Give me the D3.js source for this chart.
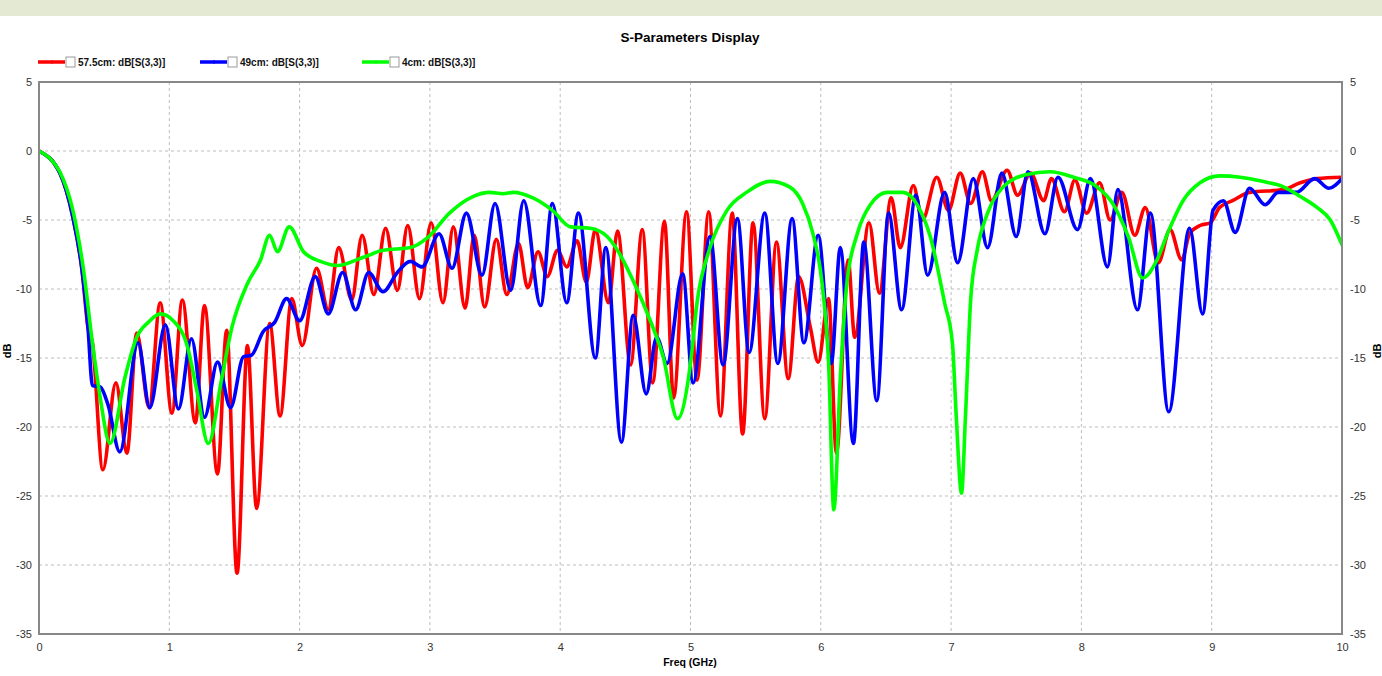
<!DOCTYPE html>
<html><head><meta charset="utf-8">
<script src="https://cdn.jsdelivr.net/npm/d3@7"></script>
<style>
body{margin:0;background:#fff;}
text{font-family:"Liberation Sans",Arial,sans-serif;}
</style></head>
<body><svg id="c" width="1382" height="676"></svg>
<script>
const title = "S-Parameters Display";
const seriesNames = ["57.5cm: dB[S(3,3)]", "49cm: dB[S(3,3)]", "4cm: dB[S(3,3)]"];
const seriesColors = ["#ff0000", "#0000ff", "#00ff00"];
const xTicks = [0,1,2,3,4,5,6,7,8,9,10];
const yTicks = [5,0,-5,-10,-15,-20,-25,-30,-35];

const red575 = [[0,0],[0.16,-1.6],[0.26,-4.8],[0.33,-8.6],[0.376,-12.8],[0.41,-13.9],[0.49,-23.1],[0.59,-16.8],[0.675,-21.9],[0.75,-13.2],[0.845,-18.6],[0.93,-11.0],[1.02,-19.0],[1.10,-10.8],[1.20,-19.7],[1.27,-11.2],[1.37,-23.4],[1.44,-13.0],[1.52,-30.6],[1.60,-14.1],[1.67,-25.9],[1.77,-12.5],[1.85,-19.2],[1.94,-10.7],[2.02,-14.1],[2.13,-8.5],[2.22,-11.5],[2.30,-7.0],[2.40,-10.8],[2.48,-6.1],[2.57,-10.4],[2.66,-5.6],[2.75,-10.1],[2.83,-5.4],[2.92,-10.7],[3.01,-5.2],[3.10,-11.0],[3.18,-5.5],[3.27,-11.4],[3.34,-6.1],[3.42,-11.3],[3.51,-6.4],[3.59,-10.4],[3.68,-6.7],[3.75,-9.9],[3.83,-7.3],[3.90,-9.1],[3.98,-7.2],[4.05,-8.4],[4.13,-6.5],[4.20,-9.5],[4.27,-5.7],[4.37,-11.0],[4.44,-5.8],[4.54,-15.5],[4.63,-5.7],[4.71,-16.8],[4.80,-5.1],[4.87,-17.9],[4.97,-4.4],[5.05,-16.6],[5.14,-4.4],[5.23,-19.2],[5.32,-4.5],[5.40,-20.5],[5.48,-5.2],[5.57,-19.4],[5.66,-6.6],[5.75,-16.5],[5.83,-9.1],[5.92,-12.8],[5.98,-15.3],[6.06,-10.7],[6.12,-21.9],[6.21,-7.9],[6.26,-13.5],[6.37,-5.2],[6.45,-10.3],[6.54,-3.4],[6.61,-7.0],[6.71,-2.5],[6.78,-5.0],[6.89,-1.9],[6.98,-4.3],[7.07,-1.6],[7.15,-3.8],[7.24,-1.5],[7.31,-3.6],[7.43,-1.4],[7.51,-3.2],[7.61,-1.6],[7.71,-3.6],[7.77,-2.0],[7.87,-4.4],[7.95,-2.1],[8.04,-4.5],[8.14,-2.3],[8.22,-5.0],[8.31,-3.0],[8.41,-6.1],[8.49,-4.1],[8.59,-8.1],[8.68,-5.7],[8.77,-7.9],[8.83,-6.0],[8.91,-5.4],[8.99,-5.2],[9.06,-4.1],[9.16,-3.6],[9.29,-3.0],[9.55,-2.8],[9.68,-2.3],[9.81,-2.0],[10,-1.9]];

const blue49 = [[0,0],[0.16,-1.6],[0.26,-4.8],[0.33,-8.6],[0.376,-12.8],[0.41,-17.0],[0.47,-17.1],[0.53,-18.4],[0.62,-21.8],[0.76,-13.9],[0.85,-18.6],[0.97,-12.6],[1.07,-18.7],[1.17,-13.6],[1.27,-19.3],[1.37,-15.3],[1.47,-18.6],[1.57,-14.9],[1.63,-14.8],[1.72,-13.1],[1.81,-12.4],[1.90,-10.7],[2.00,-12.3],[2.12,-9.1],[2.22,-11.8],[2.33,-8.8],[2.43,-11.5],[2.53,-8.8],[2.64,-10.2],[2.75,-8.8],[2.85,-8.0],[2.94,-8.4],[3.07,-6.0],[3.17,-8.5],[3.28,-4.5],[3.40,-9.0],[3.50,-3.8],[3.62,-10.1],[3.72,-3.6],[3.85,-11.2],[3.94,-3.8],[4.05,-11.0],[4.14,-4.5],[4.27,-15.0],[4.35,-7.0],[4.47,-21.1],[4.56,-11.9],[4.66,-17.6],[4.74,-13.5],[4.82,-15.4],[4.94,-8.9],[5.02,-16.8],[5.15,-6.2],[5.25,-15.5],[5.36,-4.9],[5.45,-14.6],[5.57,-4.5],[5.67,-15.4],[5.78,-4.9],[5.87,-13.9],[5.98,-6.1],[6.08,-15.4],[6.15,-7.0],[6.25,-21.2],[6.33,-6.6],[6.43,-18.1],[6.52,-4.5],[6.62,-11.5],[6.73,-3.2],[6.82,-9.0],[6.95,-3.0],[7.05,-8.1],[7.17,-2.0],[7.28,-7.0],[7.39,-1.6],[7.50,-6.2],[7.59,-1.5],[7.72,-6.0],[7.82,-1.9],[7.97,-5.7],[8.07,-2.0],[8.20,-8.4],[8.28,-2.8],[8.43,-11.5],[8.53,-4.5],[8.67,-18.9],[8.83,-5.6],[8.93,-11.8],[9.01,-4.3],[9.09,-3.6],[9.18,-5.9],[9.29,-2.7],[9.41,-3.9],[9.51,-3.0],[9.65,-3.0],[9.79,-2.0],[9.90,-2.7],[10,-2.0]];

const green4 = [[0,0],[0.08,-0.5],[0.16,-1.5],[0.26,-4.3],[0.34,-8.5],[0.41,-13.9],[0.47,-17.9],[0.545,-21.2],[0.66,-16.4],[0.75,-13.5],[0.84,-12.4],[0.93,-11.8],[1.03,-12.3],[1.14,-14.2],[1.21,-17.3],[1.30,-21.2],[1.40,-16.6],[1.48,-12.8],[1.60,-9.6],[1.70,-7.9],[1.77,-6.1],[1.83,-7.3],[1.92,-5.5],[2.03,-7.3],[2.16,-8.0],[2.29,-8.3],[2.49,-7.7],[2.64,-7.2],[2.85,-7.0],[2.98,-6.3],[3.15,-4.5],[3.33,-3.3],[3.46,-3.0],[3.56,-3.1],[3.64,-3.0],[3.79,-3.4],[3.94,-4.3],[4.08,-5.5],[4.23,-5.6],[4.36,-6.2],[4.44,-7.2],[4.56,-9.4],[4.70,-12.5],[4.79,-14.9],[4.90,-19.4],[5.00,-15.4],[5.05,-11.0],[5.15,-7.0],[5.28,-4.3],[5.43,-3.0],[5.61,-2.2],[5.76,-2.6],[5.86,-3.8],[5.94,-6.0],[6.01,-9.6],[6.06,-15.4],[6.10,-26.0],[6.15,-16.4],[6.20,-9.6],[6.28,-6.0],[6.38,-3.9],[6.51,-3.0],[6.63,-3.0],[6.74,-3.9],[6.84,-6.2],[6.95,-11.0],[7.01,-13.9],[7.04,-19.3],[7.08,-24.8],[7.11,-19.3],[7.15,-10.8],[7.20,-7.2],[7.28,-4.5],[7.40,-2.6],[7.58,-1.7],[7.76,-1.5],[7.94,-1.9],[8.12,-2.6],[8.24,-3.8],[8.36,-6.2],[8.47,-9.2],[8.58,-7.9],[8.66,-6.0],[8.78,-3.6],[8.91,-2.3],[9.06,-1.8],[9.22,-1.9],[9.39,-2.2],[9.55,-2.6],[9.68,-3.3],[9.81,-4.1],[9.91,-5.0],[10,-6.8]];

const seriesData = [red575, blue49, green4];

const svg = d3.select("#c");
const L = 39, R = 1342, T = 82, B = 634;
const x = d3.scaleLinear().domain([0,10]).range([L,R]);
const y = d3.scaleLinear().domain([-35,5]).range([B,T]);

svg.append("rect").attr("x",0).attr("y",0).attr("width",1382).attr("height",16).attr("fill","#e4e9d3");

svg.append("text").attr("x",690).attr("y",42).attr("text-anchor","middle")
  .attr("font-size",13.5).attr("font-weight","bold").attr("fill","#000").text(title);

const legX = [38, 200, 362];
seriesNames.forEach((n,i)=>{
  const g = svg.append("g").attr("transform",`translate(${legX[i]},62)`);
  g.append("line").attr("x1",0).attr("x2",27).attr("y1",0).attr("y2",0).attr("stroke",seriesColors[i]).attr("stroke-width",3.5);
  g.append("line").attr("x1",14).attr("x2",14).attr("y1",-2).attr("y2",2).attr("stroke",seriesColors[i]).attr("stroke-width",1);
  g.append("rect").attr("x",28).attr("y",-5).attr("width",9).attr("height",10).attr("fill","#fff").attr("stroke","#999").attr("stroke-width",1);
  g.append("text").attr("x",40).attr("y",4).attr("font-size",10).attr("font-weight","bold").attr("fill","#111").text(n);
});

const grid = svg.append("g");
grid.selectAll(".vg").data(xTicks.slice(1,-1)).enter().append("line")
  .attr("x1",d=>x(d)).attr("x2",d=>x(d)).attr("y1",T).attr("y2",B)
  .attr("stroke","#bdbdbd").attr("stroke-dasharray","3,3").attr("stroke-width",1);
grid.selectAll(".hg").data(yTicks.slice(1,-1)).enter().append("line")
  .attr("x1",L).attr("x2",R).attr("y1",d=>y(d)).attr("y2",d=>y(d))
  .attr("stroke","#bdbdbd").attr("stroke-dasharray","3,3").attr("stroke-width",1);

const fmt = d => String(d);
const axL = svg.append("g").attr("transform",`translate(${L},0)`)
  .call(d3.axisLeft(y).tickValues(yTicks).tickSize(0).tickPadding(7).tickFormat(fmt));
const axR = svg.append("g").attr("transform",`translate(${R},0)`)
  .call(d3.axisRight(y).tickValues(yTicks).tickSize(0).tickPadding(8).tickFormat(fmt));
const axB = svg.append("g").attr("transform",`translate(0,${B})`)
  .call(d3.axisBottom(x).tickValues(xTicks).tickSize(0).tickPadding(9).tickFormat(fmt));
[axL,axR,axB].forEach(a=>{
  a.select(".domain").remove();
  a.selectAll("text").attr("font-size",11).attr("fill","#333").attr("font-family","Liberation Sans, Arial, sans-serif");
});

svg.append("clipPath").attr("id","clip").append("rect").attr("x",L).attr("y",T).attr("width",R-L).attr("height",B-T);

const line = d3.line().x(d=>x(d[0])).y(d=>y(d[1])).curve(d3.curveMonotoneX);
const plot = svg.append("g").attr("clip-path","url(#clip)");
seriesData.forEach((s,i)=>{
  plot.append("path").datum(s).attr("d",line).attr("fill","none")
    .attr("stroke",seriesColors[i]).attr("stroke-width",3.6).attr("stroke-linejoin","round").attr("stroke-linecap","round");
});

svg.append("rect").attr("x",L).attr("y",T).attr("width",R-L).attr("height",B-T)
  .attr("fill","none").attr("stroke","#888").attr("stroke-width",2);

svg.append("text").attr("transform","translate(11,351) rotate(-90)").attr("text-anchor","middle")
  .attr("font-size",11).attr("font-weight","bold").attr("fill","#000").text("dB");
svg.append("text").attr("transform","translate(1381,351) rotate(-90)").attr("text-anchor","middle")
  .attr("font-size",11).attr("font-weight","bold").attr("fill","#000").text("dB");
svg.append("text").attr("x",690).attr("y",666).attr("text-anchor","middle")
  .attr("font-size",10.5).attr("font-weight","bold").attr("fill","#000").text("Freq (GHz)");
</script></body></html>
